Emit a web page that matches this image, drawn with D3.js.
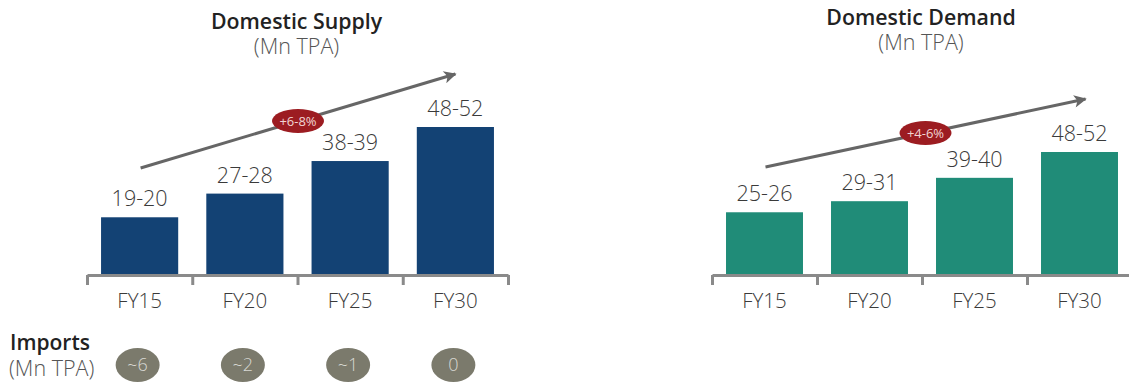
<!DOCTYPE html>
<html>
<head>
<meta charset="utf-8">
<script src="https://cdn.jsdelivr.net/npm/d3@7/dist/d3.min.js"></script>
<style>
  html, body { margin: 0; padding: 0; background: #fff; }
  svg { display: block; font-family: "Open Sans", "Noto Sans", sans-serif; }
</style>
</head>
<body>
<svg id="chart" width="1129" height="383"></svg>
<script>
// Fiscal years shown on both panels
const categories = ["FY15", "FY20", "FY25", "FY30"];

// Domestic supply, Mn TPA (low / high of each range)
const supplyLow  = [19, 27, 38, 48];
const supplyHigh = [20, 28, 39, 52];

// Domestic demand, Mn TPA (low / high of each range)
const demandLow  = [25, 29, 39, 48];
const demandHigh = [26, 31, 40, 52];

// Imports, Mn TPA, shown in the row under the supply panel
const importLabels = ["~6", "~2", "~1", "0"];

// Growth-rate callouts
const supplyGrowth = "+6-8%";
const demandGrowth = "+4-6%";

const svg = d3.select("#chart");

const panels = [
  {
    title: "Domestic Supply", unit: "(Mn TPA)",
    low: supplyLow, high: supplyHigh, growth: supplyGrowth,
    color: "#134274",
    xRange: [87, 508], yRange: [275, 127], yMax: 50,
    titleY: 29, unitY: 54,
    arrow: { y0: 168, y1: 74, dx1: 0 }
  },
  {
    title: "Domestic Demand", unit: "(Mn TPA)",
    low: demandLow, high: demandHigh, growth: demandGrowth,
    color: "#208C78",
    xRange: [712, 1132], yRange: [275, 152], yMax: 50,
    titleY: 25, unitY: 50,
    arrow: { y0: 167, y1: 99, dx1: 6 }
  }
];

// Arrowhead marker
svg.append("defs").append("marker")
  .attr("id", "arrowhead")
  .attr("viewBox", "0 0 10 10")
  .attr("refX", 9).attr("refY", 5)
  .attr("markerWidth", 5).attr("markerHeight", 4.2)
  .attr("markerUnits", "strokeWidth")
  .attr("orient", "auto")
  .append("path")
  .attr("d", "M0,0 L10,5 L0,10 L2.5,5 Z")
  .attr("fill", "#666");

const panelScales = [];

panels.forEach(p => {
  const x = d3.scaleBand()
    .domain(categories)
    .range(p.xRange)
    .paddingInner(0.267)
    .paddingOuter(0.1335);

  const y = d3.scaleLinear()
    .domain([0, p.yMax])
    .range(p.yRange);

  panelScales.push({ x, y });

  const mid = p.low.map((v, i) => (v + p.high[i]) / 2);
  const g = svg.append("g");

  // Bars
  g.selectAll("rect.bar")
    .data(categories)
    .join("rect")
    .attr("class", "bar")
    .attr("x", d => x(d))
    .attr("width", x.bandwidth())
    .attr("y", (d, i) => y(mid[i]))
    .attr("height", (d, i) => y(0) - y(mid[i]))
    .attr("fill", p.color);

  // Range labels above bars
  g.selectAll("text.val")
    .data(categories)
    .join("text")
    .attr("class", "val")
    .attr("x", d => x(d) + x.bandwidth() / 2)
    .attr("y", (d, i) => y(mid[i]) - 11)
    .attr("text-anchor", "middle")
    .attr("font-size", 21.5)
    .attr("font-weight", 300)
    .attr("fill", "#3a3a3a")
    .text((d, i) => `${p.low[i]}-${p.high[i]}`);

  // Baseline axis with ticks on the band boundaries
  const edge = d3.scaleLinear().domain([0, categories.length]).range(p.xRange);
  const axis = g.append("g")
    .attr("transform", `translate(0,${y(0)})`)
    .call(d3.axisBottom(edge)
      .tickValues(d3.range(categories.length + 1))
      .tickSize(10)
      .tickSizeOuter(0)
      .tickFormat(""));
  axis.select(".domain").attr("stroke", "#8a8a8a").attr("stroke-width", 3);
  axis.selectAll(".tick line").attr("stroke", "#8a8a8a").attr("stroke-width", 3);

  // Category labels
  g.selectAll("text.cat")
    .data(categories)
    .join("text")
    .attr("class", "cat")
    .attr("x", d => x(d) + x.bandwidth() / 2)
    .attr("y", y(0) + 33)
    .attr("text-anchor", "middle")
    .attr("font-size", 20.5)
    .attr("font-weight", 300)
    .attr("fill", "#3a3a3a")
    .text(d => d);

  // Titles
  const cx = (p.xRange[0] + p.xRange[1]) / 2 - 1;
  g.append("text")
    .attr("x", cx).attr("y", p.titleY)
    .attr("text-anchor", "middle")
    .attr("font-size", 21.3)
    .attr("font-weight", 600)
    .attr("fill", "#222")
    .text(p.title);
  g.append("text")
    .attr("x", cx).attr("y", p.unitY)
    .attr("text-anchor", "middle")
    .attr("font-size", 21.5)
    .attr("font-weight", 300)
    .attr("fill", "#555")
    .text(p.unit);

  // Growth arrow from the first to the last category
  const first = categories[0], last = categories[categories.length - 1];
  const ax0 = x(first) + x.bandwidth() / 2 + 1;
  const ax1 = x(last) + x.bandwidth() / 2 + p.arrow.dx1;
  g.append("line")
    .attr("x1", ax0).attr("y1", p.arrow.y0)
    .attr("x2", ax1).attr("y2", p.arrow.y1)
    .attr("stroke", "#666")
    .attr("stroke-width", 3)
    .attr("marker-end", "url(#arrowhead)");

  // Growth callout at the arrow's midpoint
  const mx = (ax0 + ax1) / 2, my = (p.arrow.y0 + p.arrow.y1) / 2;
  g.append("ellipse")
    .attr("cx", mx).attr("cy", my)
    .attr("rx", 26).attr("ry", 12)
    .attr("fill", "#9C1C21");
  g.append("text")
    .attr("x", mx).attr("y", my + 4.5)
    .attr("text-anchor", "middle")
    .attr("font-size", 13)
    .attr("font-weight", 400)
    .attr("fill", "#f1d4d4")
    .text(p.growth);
});

// Imports row beneath the supply panel
const sx = panelScales[0].x;
svg.append("text")
  .attr("x", 10).attr("y", 350)
  .attr("font-size", 21)
  .attr("font-weight", 600)
  .attr("fill", "#222")
  .text("Imports");
svg.append("text")
  .attr("x", 9).attr("y", 376)
  .attr("font-size", 21.5)
  .attr("font-weight", 300)
  .attr("fill", "#555")
  .text("(Mn TPA)");

const imp = svg.append("g");
imp.selectAll("ellipse")
  .data(categories)
  .join("ellipse")
  .attr("cx", d => sx(d) + sx.bandwidth() / 2 - 2)
  .attr("cy", 365)
  .attr("rx", 22).attr("ry", 17)
  .attr("fill", "#7b7a6c");
imp.selectAll("text")
  .data(categories)
  .join("text")
  .attr("x", d => sx(d) + sx.bandwidth() / 2 - 2)
  .attr("y", 371)
  .attr("text-anchor", "middle")
  .attr("font-size", 18)
  .attr("font-weight", 300)
  .attr("fill", "#d8d8d2")
  .text((d, i) => importLabels[i]);
</script>
</body>
</html>
